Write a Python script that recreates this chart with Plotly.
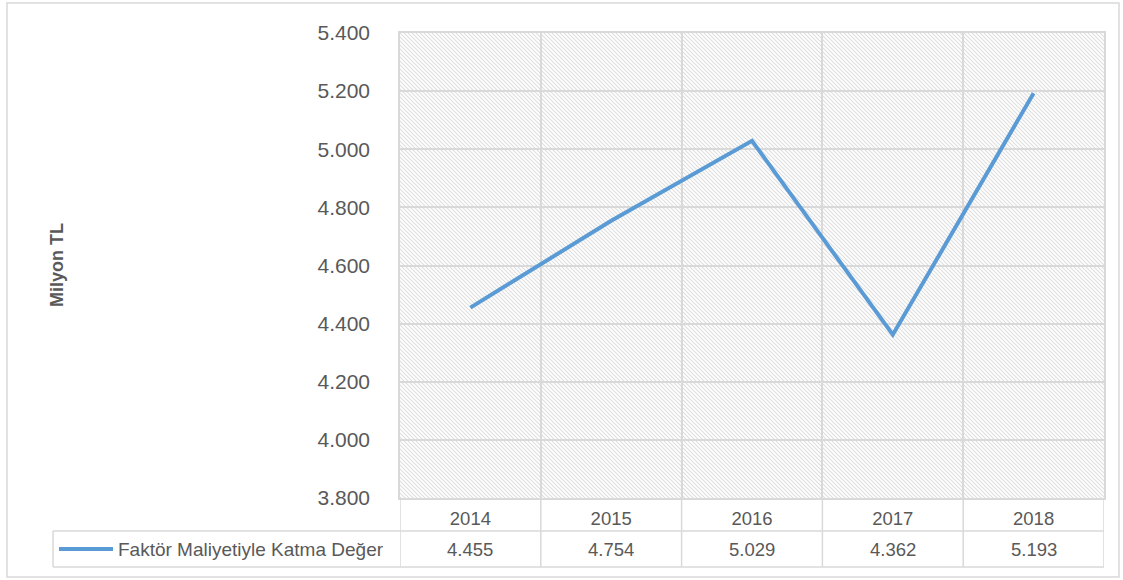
import base64
import plotly.graph_objects as go

years = ["2014", "2015", "2016", "2017", "2018"]
values = [4455, 4754, 5029, 4362, 5193]
series_name = "Faktör Maliyetiyle Katma Değer"
y_title = "Milyon TL"
y_ticks = [3800, 4000, 4200, 4400, 4600, 4800, 5000, 5200, 5400]

W, H = 1123, 580
L, R, T, B = 400, 19, 33, 82
PW, PH = W - L - R, H - T - B

LINE = "#5B9BD5"
GRID = "#d9d9d9"
TXT = "#595959"
FONT = "Liberation Sans"


def px_x(px):
    return (px - L) / PW


def px_y(py):
    return (H - B - py) / PH


def fmt(v):
    return f"{v:,.0f}".replace(",", ".")


svg = (
    f'<svg xmlns="http://www.w3.org/2000/svg" width="{PW}" height="{PH}">'
    '<defs><pattern id="h" patternUnits="userSpaceOnUse" width="4" height="4">'
    '<path d="M-1,-1 L5,5 M-1,3 L1,5 M3,-1 L5,1" stroke="#dedede" stroke-width="1.1"/>'
    '</pattern></defs>'
    f'<rect width="{PW}" height="{PH}" fill="url(#h)"/></svg>'
)
src = "data:image/svg+xml;base64," + base64.b64encode(svg.encode()).decode()

fig = go.Figure()
fig.add_trace(go.Scatter(
    x=years, y=values, mode="lines", name=series_name,
    line=dict(color=LINE, width=4), showlegend=False, hoverinfo="skip",
))

shapes = []
# outer chart border
shapes.append(dict(type="rect", xref="paper", yref="paper",
                   x0=px_x(7), x1=px_x(1119), y0=px_y(577), y1=px_y(3),
                   line=dict(color=GRID, width=1.5), fillcolor="rgba(0,0,0,0)", layer="below"))
# table horizontal lines
y_mid, y_bot = px_y(531), px_y(567)
for yy in (y_mid, y_bot):
    shapes.append(dict(type="line", xref="paper", yref="paper",
                       x0=px_x(53), x1=1, y0=yy, y1=yy,
                       line=dict(color=GRID, width=1.5)))
# table vertical lines at category boundaries
for i in range(len(years) + 1):
    shapes.append(dict(type="line", xref="x", yref="paper",
                       x0=i - 0.5, x1=i - 0.5, y0=y_bot, y1=0,
                       line=dict(color=GRID, width=1.5)))
shapes.append(dict(type="line", xref="paper", yref="paper",
                   x0=px_x(53), x1=px_x(53), y0=y_bot, y1=y_mid,
                   line=dict(color=GRID, width=1.5)))
# legend key line
y_row2 = px_y(549)
shapes.append(dict(type="line", xref="paper", yref="paper",
                   x0=px_x(59), x1=px_x(113), y0=y_row2, y1=y_row2,
                   line=dict(color=LINE, width=4)))

annotations = []
for i, v in enumerate(values):
    annotations.append(dict(x=i, xref="x", y=y_row2, yref="paper", text=fmt(v),
                            xanchor="center", yanchor="middle",
                            showarrow=False, font=dict(family=FONT, size=18.5, color=TXT)))
annotations.append(dict(x=px_x(116), xref="paper", y=y_row2, yref="paper", text=series_name,
                        xanchor="left", yanchor="middle", showarrow=False,
                        font=dict(family=FONT, size=19, color=TXT)))
annotations.append(dict(x=px_x(57), xref="paper", y=px_y(265), yref="paper", text=f"<b>{y_title}</b>",
                        textangle=-90, xanchor="center", yanchor="middle", showarrow=False,
                        font=dict(family=FONT, size=18, color=TXT)))

fig.update_layout(
    width=W, height=H,
    margin=dict(l=L, r=R, t=T, b=B),
    paper_bgcolor="white", plot_bgcolor="rgba(0,0,0,0)",
    separators=",.",
    hovermode=False,
    shapes=shapes, annotations=annotations,
    images=[dict(source=src, xref="paper", yref="paper", x=0, y=1, sizex=1, sizey=1,
                 sizing="stretch", xanchor="left", yanchor="top", layer="below")],
    xaxis=dict(type="category", tickson="boundaries", showgrid=True, gridcolor=GRID, gridwidth=1.5,
               showline=True, linecolor=GRID, linewidth=1.5, mirror=True, ticks="",
               range=[-0.5, 4.5], tickfont=dict(family=FONT, size=18.5, color=TXT),
               ticklabelstandoff=3, zeroline=False),
    yaxis=dict(range=[3800, 5400], tickvals=y_ticks, tickformat=",.0f",
               showgrid=True, gridcolor=GRID, gridwidth=1.5,
               showline=True, linecolor=GRID, linewidth=1.5, mirror=True, ticks="",
               tickfont=dict(family=FONT, size=21, color=TXT), ticklabelstandoff=24,
               zeroline=False),
)

fig.write_html("out.html", config={"displayModeBar": False},
               post_script="document.body.style.margin='0';")
